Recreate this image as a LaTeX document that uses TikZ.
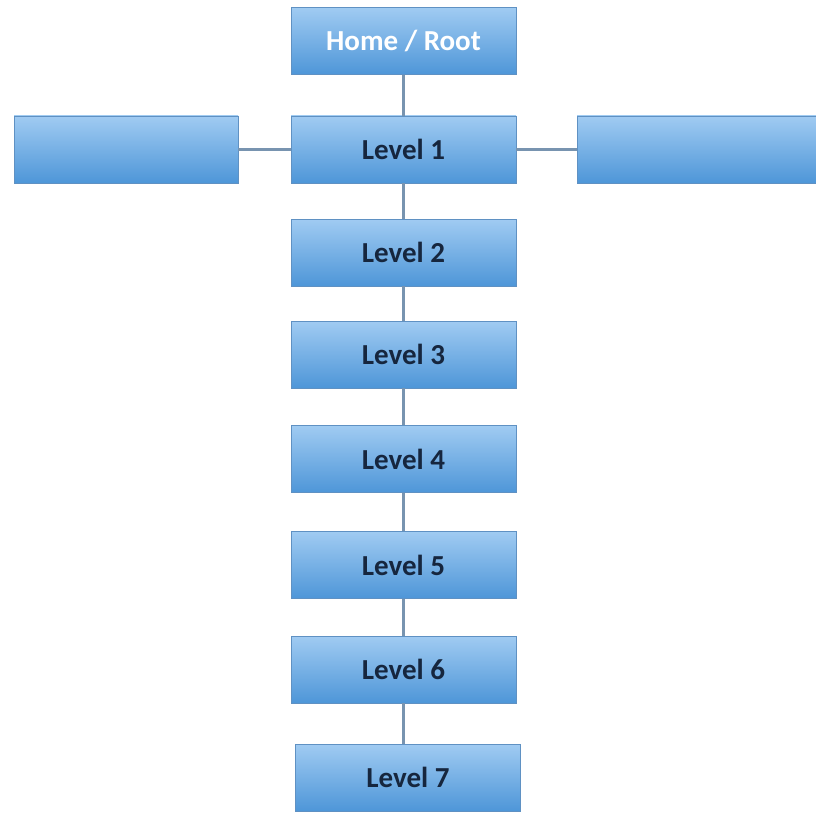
\documentclass[tikz,border=0pt]{standalone}
\usepackage{fontspec}
\setmainfont{Carlito}
\usetikzlibrary{shapes,calc}

\definecolor{boxtop}{RGB}{160,203,242}
\definecolor{boxbot}{RGB}{78,150,216}
\definecolor{boxline}{RGB}{95,145,195}
\definecolor{linkline}{RGB}{120,148,176}
\definecolor{lvltext}{RGB}{22,38,62}

\begin{document}
\begin{tikzpicture}
[x=1pt,y=-1pt,
 every node/.style={shape=rectangle,draw=boxline,line width=0.8pt,
	top color=boxtop,bottom color=boxbot,minimum width=225pt,
	minimum height=67pt,inner sep=0pt,font=\fontsize{29}{32}\selectfont\bfseries,
	text=lvltext}]
\useasboundingbox (0,0) rectangle (816,813);

\node (root) at (403.5,41) [text=white] {Home / Root};
\node (l1) at (403.5,149.5) {Level 1};
\node (side1) at (126,149.5) [minimum width=224pt] {};
\node (side2) at (697,149.5) [minimum width=240pt] {};
\node (l2) at (403.5,252.5) {Level 2};
\node (l3) at (403.5,354.5) {Level 3};
\node (l4) at (403.5,459) {Level 4};
\node (l5) at (403.5,565) {Level 5};
\node (l6) at (403.5,669.5) {Level 6};
\node (l7) at (408,777.5) {Level 7};

\path
\foreach \startNode/\endNode in {root/l1,l1/l2,l2/l3,l3/l4,l4/l5,l5/l6}
{
	(\startNode) edge[-,draw=linkline,line width=2.2pt] (\endNode)
};
\path (l6.south) edge[-,draw=linkline,line width=2.2pt] (l6.south |- l7.north);
\path
\foreach \startNode/\endNode in {side1/l1,l1/side2}
{
	(\startNode.east |- \startNode) edge[-,draw=linkline,line width=2.2pt] (\endNode.west |- \endNode)
};
\end{tikzpicture}
\end{document}
